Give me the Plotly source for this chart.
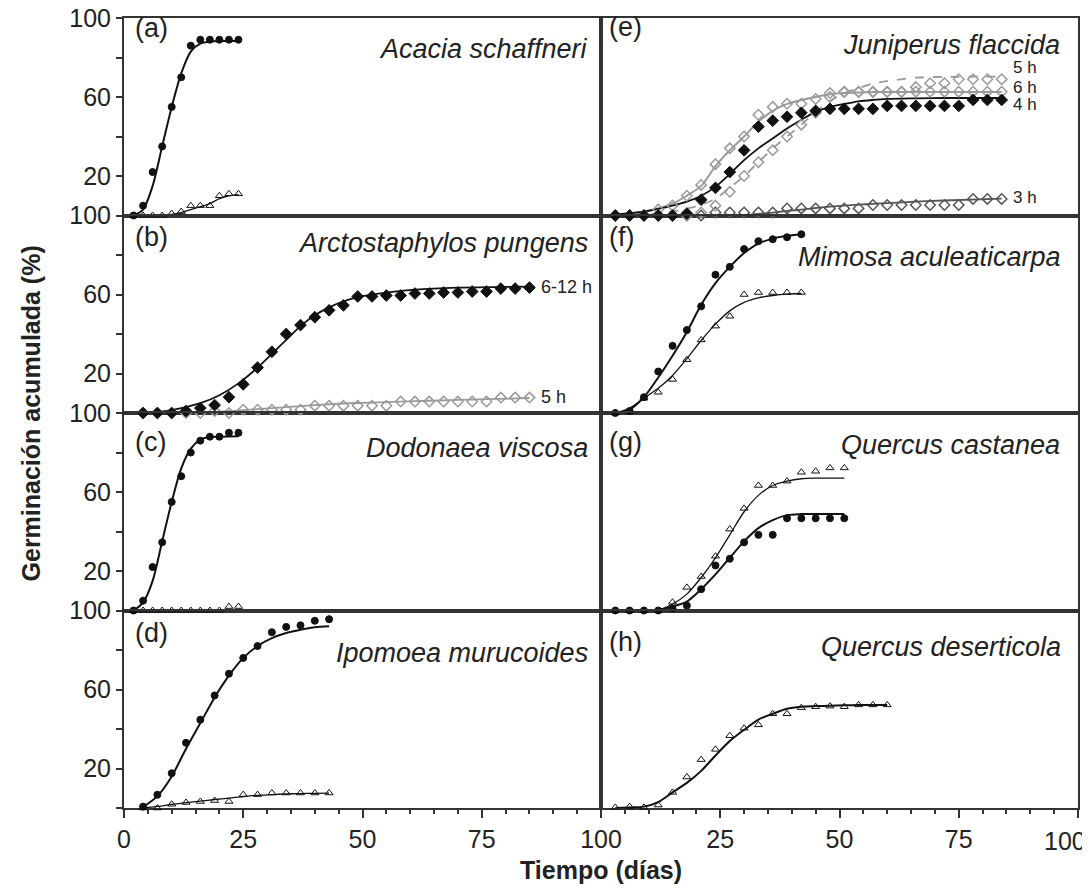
import plotly.graph_objects as go
from plotly.subplots import make_subplots

# ---------------- data ----------------
# (a) Acacia schaffneri
a_days = [2, 4, 6, 8, 10, 12, 14, 16, 18, 20, 22, 24]
a_circ = [0, 5, 22, 35, 55, 70, 86, 89, 89, 89, 89, 89]
a_tri = [0, 0, 0, 0, 1, 2, 5, 5, 5, 10, 11, 11]
a_fit_x = [2, 4, 6, 8, 10, 12, 14, 16, 18, 20, 24]
a_fit_circ = [0, 3, 15, 35, 55, 72, 83, 87, 88, 88.3, 88.3]
a_fit_tri_x = [2, 8, 10, 12, 14, 16, 18, 20, 22, 24]
a_fit_tri = [0, 0, 0.5, 1.5, 3, 4.5, 6, 8.5, 10, 10.6]

# (b) Arctostaphylos pungens
b_days = [4, 7, 10, 13, 16, 19, 22, 25, 28, 31, 34, 37, 40, 43, 46, 49, 52, 55,
          58, 61, 64, 67, 70, 73, 76, 79, 82, 85]
b_612 = [0, 0, 0, 1, 2.5, 4, 8, 14.5, 23, 31, 40, 44.5, 48.5, 52, 54.5, 59, 59,
         59.5, 59.5, 60.5, 60.5, 61, 61, 61.5, 61.5, 63, 63, 63.5]
b_5h = [0, 0, 0, 0, 0, 1, 0, 1.7, 1.7, 1.7, 1.7, 1.7, 3.7, 3.7, 3.7, 3.7, 3.7,
        3.7, 5.8, 5.8, 5.8, 5.8, 5.8, 5.8, 5.8, 7.8, 7.8, 7.8]
b_fit612_x = [4, 10, 16, 20, 24, 28, 31, 34, 37, 40, 43, 46, 49, 55, 61, 70, 85]
b_fit612 = [0, 1.5, 5, 9, 15, 23, 30, 37, 44, 49.5, 53.5, 56.5, 58.7, 61, 62.5, 63.5, 64]
b_fit5_x = [4, 16, 22, 28, 34, 40, 46, 52, 58, 64, 70, 76, 85]
b_fit5 = [0, 0.3, 1, 2, 3, 4, 4.8, 5.3, 5.8, 6.2, 6.6, 7, 7.6]

# (c) Dodonaea viscosa
c_days = [2, 4, 6, 8, 10, 12, 14, 16, 18, 20, 22, 24]
c_circ = [0, 5, 22, 34.5, 55, 68, 80, 86, 88, 88, 90, 90]
c_tri = [0, 0, 0, 0, 0, 0, 0, 0, 0, 0, 2, 2]
c_fit_x = [2, 4, 6, 8, 10, 12, 14, 16, 18, 20, 24]
c_fit = [0, 4, 15, 35, 55, 72, 82, 86.5, 87.8, 88, 88.2]

# (d) Ipomoea murucoides
d_days = [4, 7, 10, 13, 16, 19, 22, 25, 28, 31, 34, 37, 40, 43]
d_circ = [0.7, 6.7, 17.6, 33, 44.7, 57, 68, 76, 82, 89, 91.7, 92.5, 94.8, 95.6]
d_tri = [0, 0, 1.9, 2.8, 3.3, 3.8, 3.3, 6.8, 6.8, 7.6, 7.6, 7.6, 7.6, 7.6]
d_fit_circ = [0.5, 6, 16, 30, 43, 56, 67, 76, 82, 86, 88.6, 90.3, 91.5, 92]
d_fit_tri = [0, 0.8, 1.8, 2.7, 3.5, 4.3, 5, 5.8, 6.4, 6.8, 7.1, 7.3, 7.4, 7.5]

# (e) Juniperus flaccida
e_days = [3, 6, 9, 12, 15, 18, 21, 24, 27, 30, 33, 36, 39, 42, 45, 48, 51, 54,
          57, 60, 63, 66, 69, 72, 75, 78, 81, 84]
e_3h = [0, 0, 0, 0, 0, 0, 0, 1.5, 1.5, 1.5, 1.5, 1.5, 3.6, 3.6, 3.6, 3.6, 3.6,
        3.6, 5.3, 5.3, 5.3, 5.3, 5.3, 5.3, 5.3, 8.4, 8.4, 8.4]
e_4h = [0, 0, 0, 0, 0, 1, 8, 14, 22, 33, 45, 48, 50, 52, 53, 54, 54, 54, 54,
        55.5, 55.5, 55.5, 55.5, 55.5, 55.5, 58.5, 58.5, 58.5]
e_5h = [0, 0, 0, 0, 0, 0, 1.5, 5, 12, 20, 27, 33, 40, 46, 52, 60, 62.5, 62.5,
        62.5, 62.5, 62.5, 65, 67, 67, 69, 69, 69, 69]
e_6h = [0, 0, 0, 3, 5, 10, 15.5, 26, 34, 40, 51, 55, 56.6, 56.6, 59, 62, 62.7,
        62.7, 62.7, 62.7, 62.7, 62.7, 62.7, 62.7, 62.7, 62.7, 62.7, 62.7]
e_fit_x = [3, 9, 15, 18, 21, 24, 27, 30, 33, 36, 39, 42, 45, 48, 51, 54, 57,
           60, 66, 72, 84]
e_fit_3h = [0, 0, 0, 0, 0, 0.1, 0.2, 0.3, 0.8, 1.5, 2.3, 3, 3.8, 4.5, 5, 5.5,
            5.9, 6.3, 7, 7.6, 8.5]
e_fit_4h = [0.5, 2, 5, 7, 10, 14.5, 21, 28, 34, 39, 44, 48.5, 52.5, 55, 56.5,
            57.8, 58.5, 59, 59.3, 59.5, 59.5]
e_fit_5h = [0, 0.5, 2, 3.5, 5.5, 8.5, 14, 20, 27, 34, 40, 46, 52.5, 58, 62,
            64.5, 66.8, 68, 69.8, 70.2, 70.3]
e_fit_6h = [0.5, 2, 6, 10, 15, 25, 33, 40, 47.5, 53, 56.5, 58.5, 60, 61.4, 62,
            62.3, 62.5, 62.5, 62.5, 62.5, 62.5]

# (f) Mimosa aculeaticarpa
f_days = [3, 6, 9, 12, 15, 18, 21, 24, 27, 30, 33, 36, 39, 42]
f_circ = [0, 1, 8, 21, 34, 42, 54, 70, 74, 83, 87, 88, 89, 90.5]
f_tri = [0, 0.5, 7.5, 10.5, 17, 27, 37, 44, 49, 60, 61, 61, 61, 61]
f_fit_circ = [0, 1.7, 8, 18, 29, 41, 54.8, 65.8, 74, 81, 85.8, 88.3, 89.7, 90.5]
f_fit_tri = [0, 2.5, 7.5, 12.5, 19, 27.5, 36.7, 45, 51.7, 56, 58.3, 59.5, 60.2, 60.5]

# (g) Quercus castanea
g_days = [3, 6, 9, 12, 15, 18, 21, 24, 27, 30, 33, 36, 39, 42, 45, 48, 51]
g_circ = [0, 0, 0, 0, 1, 2.5, 10.8, 22.8, 26.2, 34.5, 38.3, 38.3, 46.7, 46.7,
          46.7, 46.7, 46.7]
g_tri = [0, 0, 0, 0, 4.2, 11.7, 17.2, 27.5, 41.2, 51.7, 63.3, 63.3, 65.5, 70,
         70.5, 72.2, 72.2]
g_fit_circ = [0, 0, 0, 0.3, 2, 4.5, 10.8, 18.3, 26.7, 35, 41.7, 45.8, 48.3,
              48.8, 48.8, 48.8, 48.8]
g_fit_tri = [0, 0, 0, 0.3, 3.3, 8.3, 16.7, 26.7, 38.3, 50, 58.3, 63.3, 65.5,
             66.7, 67, 67, 67]

# (h) Quercus deserticola
h_days = [3, 6, 9, 12, 15, 18, 21, 24, 27, 30, 33, 36, 39, 42, 45, 48, 51, 54, 57, 60]
h_tri = [0.3, 0.7, 0.3, 1.5, 7.9, 15.7, 24.5, 29.7, 36.6, 40.4, 42.1, 47.7,
         47.7, 50.8, 51.3, 51.6, 51.3, 52.2, 52.2, 52.2]
h_fit = [0, 0.3, 0.7, 3, 7.9, 12.7, 18.8, 26.6, 33.9, 39.6, 44.8, 47.7, 50.3,
         51.3, 51.6, 51.8, 52, 52.1, 52.2, 52.2]

panel_letters = ["(a)", "(b)", "(c)", "(d)", "(e)", "(f)", "(g)", "(h)"]
species = ["Acacia schaffneri", "Arctostaphylos pungens", "Dodonaea viscosa",
           "Ipomoea murucoides", "Juniperus flaccida", "Mimosa aculeaticarpa",
           "Quercus castanea", "Quercus deserticola"]
x_ticks = [0, 25, 50, 75, 100]
x_ticktext_left = ["0", "25", "50", "75", "100"]
x_ticktext_right = ["", "25", "50", "75", ""]
y_ticks = [0, 20, 40, 60, 80, 100]
y_ticktext = ["", "20", "", "60", "", "100"]

# ---------------- figure ----------------
fig = make_subplots(rows=4, cols=2, horizontal_spacing=0, vertical_spacing=0)

BLACK = "#111111"
GRAY = "#9a9a9a"
DGRAY = "#555555"


def line(x, y, r, c, color=BLACK, width=2, dash="solid"):
    fig.add_trace(go.Scatter(x=x, y=y, mode="lines", line=dict(color=color, width=width, dash=dash,
                                                               shape="spline", smoothing=0.8),
                             cliponaxis=False, hoverinfo="skip"), row=r, col=c)


def pts(x, y, r, c, symbol, color=BLACK, size=7, lw=1, fill=None):
    fig.add_trace(go.Scatter(x=x, y=y, mode="markers",
                             marker=dict(symbol=symbol, size=size, color=fill if fill else color,
                                         line=dict(color=color, width=lw)),
                             cliponaxis=False), row=r, col=c)


# (a)
line(a_fit_x, a_fit_circ, 1, 1)
line(a_fit_tri_x, a_fit_tri, 1, 1, width=1.3)
pts(a_days, a_circ, 1, 1, "circle", size=7)
pts(a_days, a_tri, 1, 1, "triangle-up-open", size=7)

# (b)
line(b_fit5_x, b_fit5, 2, 1, color=GRAY, width=1.8)
line(b_fit612_x, b_fit612, 2, 1, width=1.8)
pts(b_days, b_5h, 2, 1, "diamond-open", color=GRAY, size=8, lw=1.5)
pts(b_days, b_612, 2, 1, "diamond", size=9)

# (c)
line(c_fit_x, c_fit, 3, 1)
pts(c_days, c_circ, 3, 1, "circle", size=7)
pts(c_days, c_tri, 3, 1, "triangle-up-open", size=7)

# (d)
line(d_days, d_fit_circ, 4, 1)
line(d_days, d_fit_tri, 4, 1, width=1.3)
pts(d_days, d_circ, 4, 1, "circle", size=7)
pts(d_days, d_tri, 4, 1, "triangle-up-open", size=7)

# (e)
line(e_fit_x, e_fit_3h, 1, 2, color=DGRAY, width=1.8)
line(e_fit_x, e_fit_5h, 1, 2, color=GRAY, width=1.8, dash="dash")
line(e_fit_x, e_fit_6h, 1, 2, color=GRAY, width=2)
line(e_fit_x, e_fit_4h, 1, 2, width=1.8)
pts(e_days, e_3h, 1, 2, "diamond-open", color=DGRAY, size=8, lw=1.5)
pts(e_days, e_5h, 1, 2, "diamond-open", color=GRAY, size=8, lw=1.5)
pts(e_days, e_6h, 1, 2, "diamond-open", color=GRAY, size=8, lw=1.5)
pts(e_days, e_4h, 1, 2, "diamond", size=9)

# (f)
line(f_days, f_fit_circ, 2, 2)
line(f_days, f_fit_tri, 2, 2, width=1.3)
pts(f_days, f_circ, 2, 2, "circle", size=7)
pts(f_days, f_tri, 2, 2, "triangle-up-open", size=7)

# (g)
line(g_days, g_fit_circ, 3, 2)
line(g_days, g_fit_tri, 3, 2, width=1.3)
pts(g_days, g_circ, 3, 2, "circle", size=7)
pts(g_days, g_tri, 3, 2, "triangle-up-open", size=7)

# (h)
line(h_days, h_fit, 4, 2)
pts(h_days, h_tri, 4, 2, "triangle-up-open", size=7)

# ---------------- axes ----------------
AX = "#333333"
for r in range(1, 5):
    for c in range(1, 3):
        bottom = r == 4
        fig.update_xaxes(range=[0, 100], showline=True, mirror=True, linecolor=AX, linewidth=2,
                         showgrid=False, zeroline=False, layer="below traces", automargin=False,
                         ticklabeloverflow="allow",
                         tickvals=x_ticks,
                         ticktext=x_ticktext_left if c == 1 else x_ticktext_right,
                         showticklabels=bottom,
                         ticks="outside" if bottom else "", ticklen=8, tickwidth=1.5, tickcolor=AX,
                         tickfont=dict(size=25, color="#222"),
                         minor=dict(ticks="outside" if bottom else "", dtick=5, ticklen=4,
                                    tickwidth=1.5, tickcolor=AX, showgrid=False),
                         row=r, col=c)
        left = c == 1
        fig.update_yaxes(range=[0, 100], showline=True, mirror=True, linecolor=AX, linewidth=2,
                         showgrid=False, zeroline=False, layer="below traces", automargin=False,
                         ticklabeloverflow="allow",
                         tickvals=y_ticks, ticktext=y_ticktext, showticklabels=left,
                         ticks="outside" if left else "", ticklen=6, tickwidth=1.5, tickcolor=AX,
                         tickfont=dict(size=25, color="#222"),
                         row=r, col=c)

# right-most x tick label kept inside the window
fig.add_annotation(x=100, y=0, xref="x8", yref="y8", text="100", showarrow=False,
                   xanchor="right", yanchor="top", xshift=10, yshift=-17,
                   font=dict(size=25, color="#222"))

# ---------------- annotations ----------------
order = [(1, 1), (2, 1), (3, 1), (4, 1), (1, 2), (2, 2), (3, 2), (4, 2)]
label_y = [0.95, 0.891, 0.853, 0.886, 0.954, 0.891, 0.853, 0.84]
sp_x = [0.977, 0.977, 0.977, 0.977, 0.966, 0.969, 0.966, 0.969]
sp_y = [0.843, 0.861, 0.823, 0.785, 0.863, 0.79, 0.838, 0.815]
for i, (r, c) in enumerate(order):
    n = (r - 1) * 2 + c
    xr = "x domain" if n == 1 else f"x{n} domain"
    yr = "y domain" if n == 1 else f"y{n} domain"
    fig.add_annotation(x=0.018 if c == 1 else 0.012, y=label_y[i], xref=xr, yref=yr,
                       text=panel_letters[i], showarrow=False, xanchor="left", yanchor="middle",
                       font=dict(size=27, color="#222"))
    fig.add_annotation(x=sp_x[i], y=sp_y[i], xref=xr, yref=yr,
                       text=f"<i>{species[i]}</i>", showarrow=False, xanchor="right",
                       yanchor="middle", font=dict(size=27, color="#222"))

# series labels
for txt, x, y in [("6-12 h", 87, 64), ("5 h", 87, 8)]:
    fig.add_annotation(x=x, y=y, xref="x3", yref="y3", text=txt, showarrow=False,
                       xanchor="left", yanchor="middle", font=dict(size=18, color="#222"))
for txt, y in [("5 h", 75), ("6 h", 65), ("4 h", 56), ("3 h", 9)]:
    fig.add_annotation(x=86, y=y, xref="x2", yref="y2", text=txt, showarrow=False,
                       xanchor="left", yanchor="middle", font=dict(size=17, color="#222"))

fig.add_annotation(x=-0.097, y=0.5, xref="paper", yref="paper", text="<b>Germinación acumulada (%)</b>",
                   textangle=-90, showarrow=False, xanchor="center", yanchor="middle",
                   font=dict(size=25, color="#222"))
fig.add_annotation(x=0.5, y=-0.078, xref="paper", yref="paper", text="<b>Tiempo (días)</b>",
                   showarrow=False, xanchor="center", yanchor="middle",
                   font=dict(size=25, color="#222"))

# the page body adds an 8 px offset, so the figure is sized and margined to compensate
fig.update_layout(width=1082, height=885, margin=dict(l=116, r=12, t=10, b=85, autoexpand=False),
                  plot_bgcolor="white", paper_bgcolor="white", showlegend=False,
                  font=dict(family="Liberation Sans, Arial, sans-serif", color="#222"))

fig.write_html("out.html")
